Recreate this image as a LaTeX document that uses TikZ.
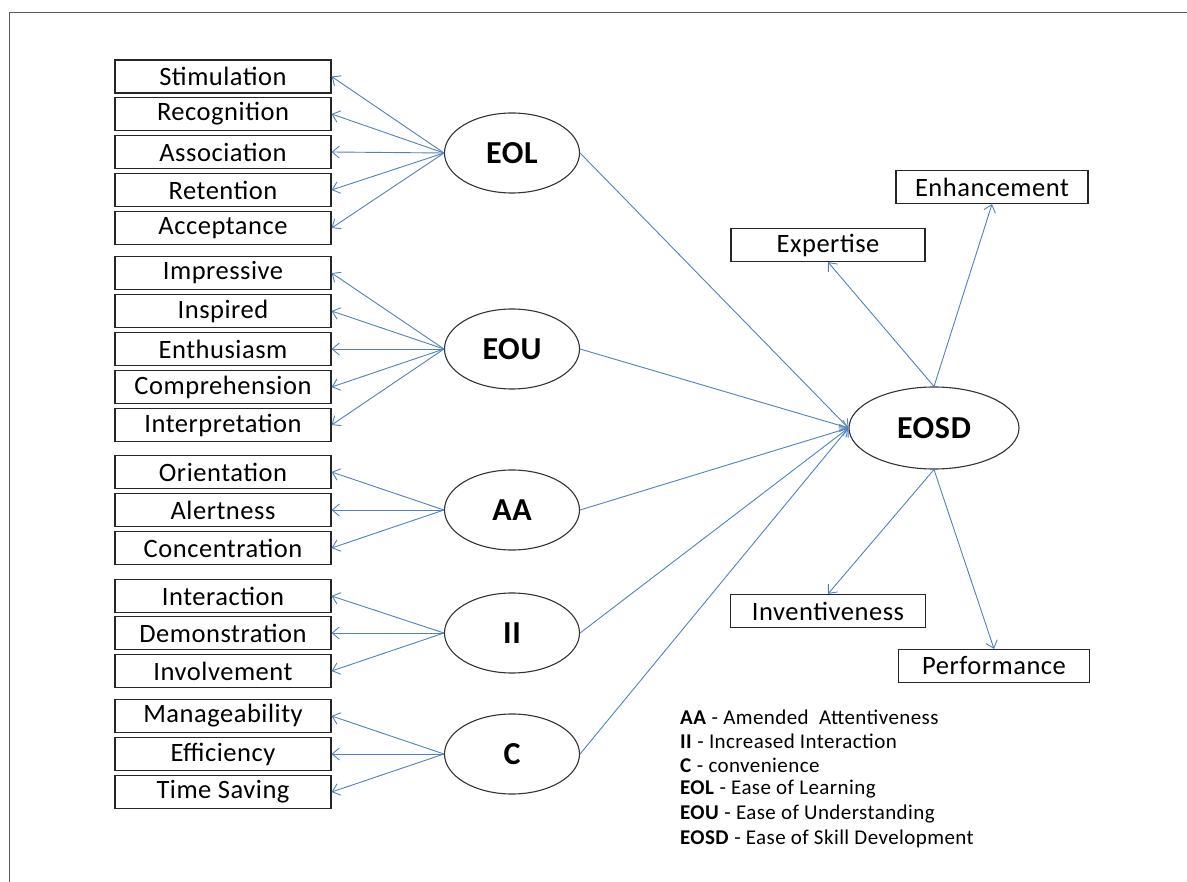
\documentclass[tikz,border=0pt]{standalone}
\usepackage{fontspec}
\setmainfont{Carlito}[LetterSpace=2]
\usetikzlibrary{shapes.geometric,arrows.meta}
\definecolor{arrowblue}{RGB}{79,129,189}
\definecolor{framegray}{RGB}{90,90,90}

\begin{document}
\begin{tikzpicture}[x=1pt,y=-1pt,
    itembox/.style={draw=black!85,line width=1.2pt,minimum width=216pt,minimum height=33pt,
      inner sep=0pt,font=\fontsize{26.5}{28}\selectfont},
    latent/.style={ellipse,draw=black!80,line width=1.1pt,minimum width=135pt,minimum height=80pt,
      inner sep=0pt,font=\fontsize{32}{36}\selectfont\bfseries},
    arr/.style={draw=arrowblue,line width=0.9pt,-{Straight Barb[length=7pt,width=12pt]}},
    legend/.style={anchor=west,inner sep=0pt,font=\fontsize{21}{23}\selectfont}]
  \useasboundingbox (0,0) rectangle (1187,882);
  \draw[framegray,line width=1pt] (9,882) -- (9,13) -- (1187,13);

  % indicator boxes on the left
  \foreach \name/\txt/\y in {stim/Stimulation/76.5, reco/Recognition/114, asso/Association/152,
      rete/Retention/190, acce/Acceptance/228,
      impr/Impressive/273, insp/Inspired/311, enth/Enthusiasm/349,
      comp/Comprehension/387, inte/Interpretation/425,
      orie/Orientation/472, aler/Alertness/510, conc/Concentration/548,
      intr/Interaction/596, demo/Demonstration/633, invo/Involvement/671,
      mana/Manageability/716, effi/Efficiency/754, time/Time Saving/792}
    \node[itembox] (\name) at (223,\y) {\txt};

  % latent variables
  \node[latent] (eol) at (512,153) {EOL};
  \node[latent] (eou) at (512,349) {EOU};
  \node[latent] (aa) at (512,510) {AA};
  \node[latent] (ii) at (512,633) {II};
  \node[latent] (c) at (512,754) {C};
  \node[latent,minimum width=170pt,minimum height=82pt] (eosd) at (934,428) {EOSD};

  % outcome boxes on the right
  \node[itembox,minimum width=192pt] (enha) at (992,187) {Enhancement};
  \node[itembox,minimum width=194pt] (expe) at (828,245) {Expertise};
  \node[itembox,minimum width=195pt] (inve) at (828,611) {Inventiveness};
  \node[itembox,minimum width=191pt] (perf) at (994,666) {Performance};

  \foreach \name in {stim,reco,asso,rete,acce} \draw[arr] (eol.west) -- (\name.east);
  \foreach \name in {impr,insp,enth,comp,inte} \draw[arr] (eou.west) -- (\name.east);
  \foreach \name in {orie,aler,conc} \draw[arr] (aa.west) -- (\name.east);
  \foreach \name in {intr,demo,invo} \draw[arr] (ii.west) -- (\name.east);
  \foreach \name in {mana,effi,time} \draw[arr] (c.west) -- (\name.east);
  \foreach \name in {eol,eou,aa,ii,c} \draw[arr] (\name.east) -- (eosd.west);

  \draw[arr] (eosd.north) -- (enha.south);
  \draw[arr] (eosd.north) -- (expe.south);
  \draw[arr] (eosd.south) -- (inve.north);
  \draw[arr] (eosd.south) -- (perf.north);

  % legend
  \node[legend] (legaa) at (680,717) {\textbf{AA} - Amended\ \ Attentiveness};
  \node[legend] (legii) at (680,741) {\textbf{II} - Increased Interaction};
  \node[legend] (legc) at (680,765) {\textbf{C} - convenience};
  \node[legend] (legeol) at (680,789) {\textbf{EOL} - Ease of Learning};
  \node[legend] (legeou) at (680,814) {\textbf{EOU} - Ease of Understanding};
  \node[legend] (legeosd) at (680,839) {\textbf{EOSD} - Ease of Skill Development};
\end{tikzpicture}
\end{document}
